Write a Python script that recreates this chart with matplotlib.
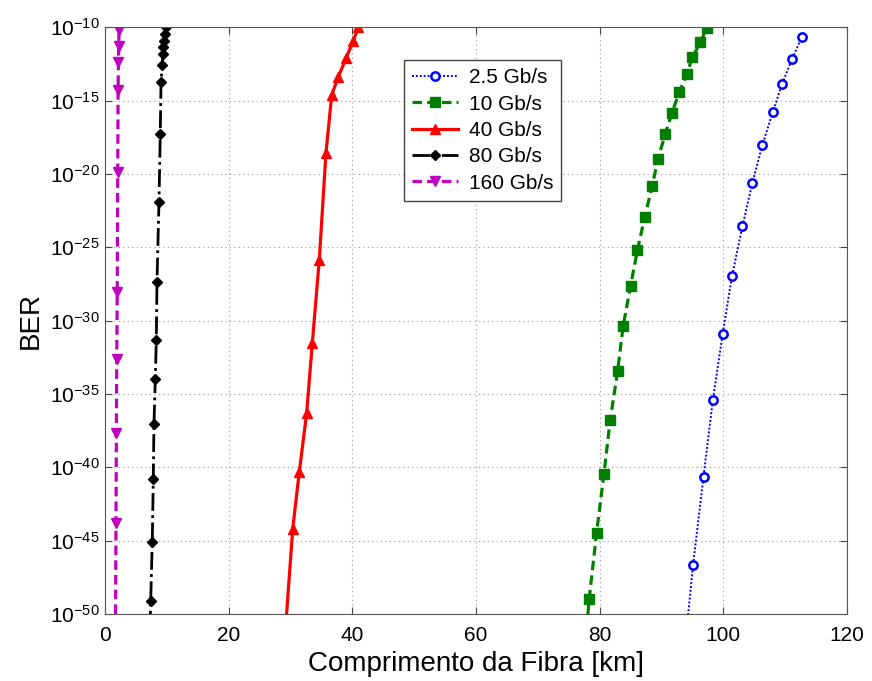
# BER vs fibre length for several bit rates (log-scale y axis)

import matplotlib
matplotlib.use('Agg')
import matplotlib.pyplot as plt
import numpy as np

# Fonts:
plt.rcParams['font.family'] = ['Liberation Sans', 'DejaVu Sans']
plt.rcParams['mathtext.fontset'] = 'custom'
plt.rcParams['mathtext.rm'] = 'Liberation Sans'
plt.rcParams['mathtext.default'] = 'regular'

# Data (x in km, BER given as exponent of 10):
km_25 = [93.5, 95.1, 96.8, 98.3, 99.9, 101.4, 103.1, 104.7, 106.3, 108.0, 109.5, 111.1, 112.7]
exp_25 = [-53.5, -46.68, -40.63, -35.44, -30.89, -26.97, -23.56, -20.61, -18.05, -15.78, -13.87, -12.18, -10.68]

km_10 = [77.3, 78.3, 79.5, 80.7, 81.7, 82.9, 83.8, 85.0, 86.1, 87.3, 88.5, 89.4, 90.6, 91.7, 92.9, 94.1, 95.0, 96.3, 97.3]
exp_10 = [-54.0, -49.0, -44.47, -40.44, -36.80, -33.46, -30.37, -27.64, -25.20, -22.93, -20.83, -19.01, -17.30, -15.83, -14.40, -13.19, -12.05, -11.02, -10.05]

km_40 = [29.2, 30.36, 31.42, 32.62, 33.53, 34.66, 35.74, 36.67, 37.73, 38.98, 40.16, 40.97]
exp_40 = [-51.0, -44.20, -40.33, -36.28, -31.53, -25.84, -18.56, -14.62, -13.37, -12.12, -10.91, -10.0]

km_80 = [7.2, 7.39, 7.65, 7.81, 7.92, 8.14, 8.30, 8.41, 8.73, 8.94, 9.06, 9.27, 9.33, 9.43, 9.54, 9.70, 9.87]
exp_80 = [-53.0, -49.09, -45.06, -40.83, -37.03, -33.96, -31.30, -27.37, -21.90, -17.30, -13.71, -12.57, -11.84, -11.32, -10.91, -10.48, -10.0]

km_160 = [1.7, 1.78, 1.84, 1.90, 1.98, 2.06, 2.12, 2.17, 2.22, 2.27]
exp_160 = [-51.0, -43.79, -37.67, -32.59, -28.05, -19.86, -14.28, -12.35, -11.28, -10.18]

labels = ['2.5 Gb/s', '10 Gb/s', '40 Gb/s', '80 Gb/s', '160 Gb/s']
x_ticks = [0, 20, 40, 60, 80, 100, 120]
y_ticks = [1e-50, 1e-45, 1e-40, 1e-35, 1e-30, 1e-25, 1e-20, 1e-15, 1e-10]

fig = plt.figure(figsize=(8.72, 6.81), dpi=100)
ax = fig.add_axes([0.1204, 0.0984, 0.8509, 0.8615])

ax.plot(km_25, 10.0 ** np.array(exp_25), color='#0000FF', linestyle=(0, (1, 1)), linewidth=1.4,
        marker='o', markersize=6, markerfacecolor='white', markeredgewidth=1.8, label=labels[0])
ax.plot(km_10, 10.0 ** np.array(exp_10), color='#007F00', linestyle=(0, (3, 1.6)), linewidth=2.3,
        marker='s', markersize=6.5, markerfacecolor='#007F00', label=labels[1])
ax.plot(km_40, 10.0 ** np.array(exp_40), color='#FF0000', linestyle='-', linewidth=2.3,
        marker='^', markersize=7, markerfacecolor='#FF0000', label=labels[2])
ax.plot(km_80, 10.0 ** np.array(exp_80), color='black', linestyle='-.', linewidth=2.0,
        marker='D', markersize=5, markerfacecolor='black', label=labels[3])
ax.plot(km_160, 10.0 ** np.array(exp_160), color='#BF00BF', linestyle=(0, (3, 1.6)), linewidth=2.3,
        marker='v', markersize=7.5, markerfacecolor='#BF00BF', label=labels[4])

ax.set_yscale('log')
ax.set_xlim(0, 120)
ax.set_ylim(1e-50, 1e-10)
ax.set_xticks(x_ticks)
ax.set_yticks(y_ticks)
ax.yaxis.set_minor_locator(matplotlib.ticker.NullLocator())

ax.grid(True, color='#999999', linestyle=(0, (1, 3)), linewidth=0.8)
ax.tick_params(direction='in', top=True, right=True, length=5, labelsize=15, color='#444444')
ax.tick_params(axis='x', pad=9)
ax.tick_params(axis='y', pad=4)
for spine in ax.spines.values():
    spine.set_color('#555555')

ax.set_xlabel('Comprimento da Fibra [km]', fontsize=20, labelpad=4)
ax.set_ylabel('BER', fontsize=20, labelpad=4)

leg = ax.legend(loc='upper left', bbox_to_anchor=(0.403, 0.944), borderaxespad=0,
                fontsize=15, fancybox=False, framealpha=1, edgecolor='#444444',
                handlelength=2.2, handletextpad=0.5, labelspacing=0.35)
leg.get_frame().set_linewidth(1.0)

plt.savefig('out.png', dpi=100)
